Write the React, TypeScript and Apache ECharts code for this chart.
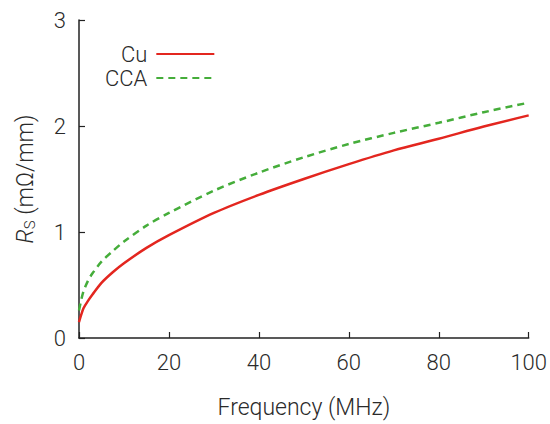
import React, { useEffect, useRef } from "react";
import * as echarts from "echarts";

const freq = [0, 0.5, 1, 2, 3, 5, 7.5, 10, 15, 20, 30, 40, 50, 60, 70, 80, 90, 100];
const cuValues = [0.15, 0.22, 0.28, 0.35, 0.41, 0.52, 0.62, 0.705, 0.85, 0.97, 1.18, 1.35, 1.5, 1.64, 1.77, 1.88, 1.995, 2.1];
const ccaValues = [0.26, 0.36, 0.44, 0.54, 0.61, 0.72, 0.82, 0.91, 1.06, 1.18, 1.39, 1.56, 1.705, 1.83, 1.935, 2.03, 2.13, 2.22];
const seriesNames = ["Cu", "CCA"];
const xTicks = [0, 20, 40, 60, 80, 100];
const yTicks = [0, 1, 2, 3];

const FONT = "Roboto, 'Liberation Sans', Arial, sans-serif";
const TXT = "#2a2a2a";
const FS = 22;
const FW = 300;

export default function App() {
  const ref = useRef<HTMLDivElement>(null);
  useEffect(() => {
    if (!ref.current) return;
    const chart = echarts.init(ref.current, null, { renderer: "svg" });
    chart.setOption({
      animation: false,
      textStyle: { fontFamily: FONT, color: TXT, fontWeight: FW },
      grid: { left: 79, right: 17, top: 20, bottom: 82, containLabel: false },
      legend: {
        orient: "vertical",
        align: "right",
        left: 100,
        top: 38,
        itemWidth: 58,
        itemHeight: 14,
        itemGap: 2,
        itemStyle: { opacity: 0 },
        textStyle: { fontSize: FS, color: TXT, fontFamily: FONT, fontWeight: FW, padding: [0, 4, 0, 0] },
        data: seriesNames,
      },
      xAxis: {
        type: "value",
        min: 0,
        max: 100,
        interval: 20,
        name: "Frequency (MHz)",
        nameLocation: "middle",
        nameGap: 58,
        nameTextStyle: { fontSize: 23, color: TXT, fontFamily: FONT, fontWeight: FW },
        axisLine: { show: true, lineStyle: { color: "#222", width: 1.5 } },
        axisTick: { show: true, inside: true, length: 6, lineStyle: { color: "#222", width: 1.2 } },
        axisLabel: {
          fontSize: FS,
          color: TXT,
          margin: 13,
          fontFamily: FONT,
          fontWeight: FW,
          formatter: (v: number) => (xTicks.includes(v) ? String(v) : ""),
        },
        splitLine: { show: false },
      },
      yAxis: {
        type: "value",
        min: 0,
        max: 3,
        interval: 1,
        name: "{i|R}{s|S} (mΩ/mm)",
        nameLocation: "middle",
        nameGap: 42,
        nameRotate: 90,
        nameTextStyle: {
          fontSize: 23,
          color: TXT,
          fontFamily: FONT,
          fontWeight: FW,
          rich: {
            i: { fontSize: 23, fontStyle: "italic", color: TXT, fontFamily: FONT, fontWeight: FW },
            s: { fontSize: 15, color: TXT, fontFamily: FONT, fontWeight: FW, verticalAlign: "bottom", padding: [6, 0, 0, 0] },
          },
        },
        axisLine: { show: true, lineStyle: { color: "#222", width: 1.5 } },
        axisTick: { show: true, inside: true, length: 6, lineStyle: { color: "#222", width: 1.2 } },
        axisLabel: {
          fontSize: FS,
          color: TXT,
          margin: 13,
          fontFamily: FONT,
          fontWeight: FW,
          formatter: (v: number) => (yTicks.includes(v) ? String(v) : ""),
        },
        splitLine: { show: false },
      },
      series: [
        {
          name: seriesNames[0],
          type: "line",
          smooth: 0.3,
          symbol: "none",
          data: freq.map((f, i) => [f, cuValues[i]]),
          lineStyle: { color: "#e3261f", width: 2.5 },
          itemStyle: { color: "#e3261f" },
        },
        {
          name: seriesNames[1],
          type: "line",
          smooth: 0.3,
          symbol: "none",
          data: freq.map((f, i) => [f, ccaValues[i]]),
          lineStyle: { color: "#45ad3a", width: 2.5, type: [7, 5] },
          itemStyle: { color: "#45ad3a" },
        },
      ],
    });
    return () => chart.dispose();
  }, []);
  return <div ref={ref} style={{ width: 550, height: 424, position: "absolute", left: 0, top: 0 }} />;
}
